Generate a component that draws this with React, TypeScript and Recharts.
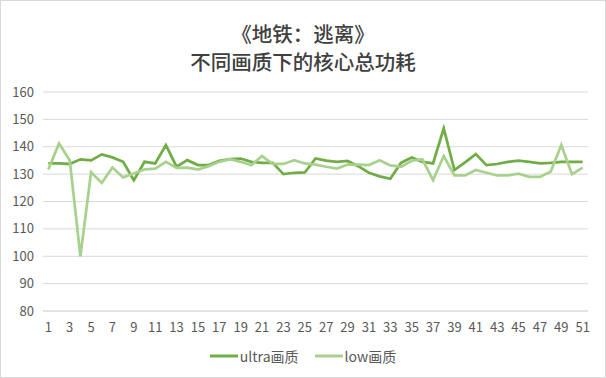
import React from 'react';
import { LineChart, Line, XAxis, YAxis, CartesianGrid, Legend } from 'recharts';

const categories = [1,2,3,4,5,6,7,8,9,10,11,12,13,14,15,16,17,18,19,20,21,22,23,24,25,26,27,28,29,30,31,32,33,34,35,36,37,38,39,40,41,42,43,44,45,46,47,48,49,50,51];

const ultraValues = [
  133.9,133.9,133.7,135.4,135.0,137.2,136.1,134.5,127.8,134.5,
  133.9,140.6,132.7,135.1,133.3,133.3,134.9,135.5,135.7,134.5,
  134.1,134.1,130.0,130.5,130.6,135.7,134.9,134.5,134.8,132.9,
  130.5,129.2,128.3,134.1,136.1,134.5,133.9,146.7,131.5,134.3,
  137.3,133.3,133.7,134.5,134.9,134.5,133.9,134.1,134.5,134.5,134.5,
];

const lowValues = [
  131.7,141.2,135.1,100.0,130.7,126.8,132.4,128.8,130.2,131.7,
  132.0,134.5,132.3,132.4,131.7,132.9,134.5,135.5,134.5,133.3,
  136.6,133.7,133.7,135.1,133.9,133.5,132.7,132.0,133.5,133.5,
  133.3,135.1,133.2,132.7,134.9,135.4,127.8,136.6,129.5,129.5,
  131.5,130.5,129.5,129.5,130.2,129.0,129.0,130.9,140.6,130.0,132.4,
];

const xTickLabels = [1,3,5,7,9,11,13,15,17,19,21,23,25,27,29,31,33,35,37,39,41,43,45,47,49,51];
const yTicks = [80,90,100,110,120,130,140,150,160];

const seriesKeys = ['ultra', 'low'];
const seriesNames: Record<string, string> = { ultra: 'ultra画质', low: 'low画质' };
const seriesColors: Record<string, string> = { ultra: '#70AD47', low: '#A9D18E' };
const titleLines = ['《地铁：逃离》', '不同画质下的核心总功耗'];

const data = categories.map((c, i) => ({ x: c, ultra: ultraValues[i], low: lowValues[i] }));
const boundaryTicks = [categories[0] - 0.5, ...categories.map((c) => c + 0.5)];
const xDomain = [categories[0] - 0.5, categories[categories.length - 1] + 0.5];

const FONT = '"Noto Sans CJK SC", "Noto Sans", sans-serif';

const renderLegend = (props: any) => {
  const payload = props.payload || [];
  const ordered = seriesKeys
    .map((k) => payload.find((p: any) => p.dataKey === k))
    .filter(Boolean);
  return (
    <div style={{ height: 35, display: 'flex', justifyContent: 'center', alignItems: 'center', fontFamily: FONT, fontSize: 14, color: '#595959' }}>
      {ordered.map((p: any) => (
        <div key={p.dataKey} style={{ display: 'flex', alignItems: 'center', margin: '0 8px' }}>
          <svg width={28} height={6} style={{ marginRight: 2 }}>
            <line x1={0} y1={3} x2={28} y2={3} stroke={p.color} strokeWidth={3} />
          </svg>
          <span>{p.value}</span>
        </div>
      ))}
    </div>
  );
};

export default function App() {
  return (
    <div style={{ position: 'absolute', left: 0, top: 0, width: 606, height: 378, background: '#fff', fontFamily: FONT }}>
      <div style={{ position: 'absolute', top: 19, left: 0, width: 606, textAlign: 'center', fontSize: 20.5, fontWeight: 500, color: '#404040', lineHeight: '28px' }}>
        {titleLines[0]}<br />{titleLines[1]}
      </div>
      <LineChart width={606} height={378} data={data} margin={{ top: 92, right: 18, left: 8, bottom: 5 }}>
        <CartesianGrid vertical={false} stroke="#D9D9D9" strokeWidth={1} />
        <XAxis
          xAxisId="grid"
          dataKey="x"
          type="number"
          domain={xDomain}
          ticks={boundaryTicks}
          tick={false}
          tickSize={4}
          height={5}
          axisLine={{ stroke: '#D9D9D9' }}
          tickLine={{ stroke: '#D9D9D9' }}
        />
        <XAxis
          xAxisId="lab"
          dataKey="x"
          type="number"
          domain={xDomain}
          ticks={xTickLabels}
          interval={0}
          tickLine={false}
          axisLine={false}
          tickSize={0}
          tickMargin={7}
          height={22}
          tick={{ fill: '#595959', fontSize: 13, fontFamily: FONT }}
        />
        <YAxis
          domain={[80, 160]}
          ticks={yTicks}
          width={35}
          tickLine={false}
          axisLine={false}
          tickSize={0}
          tickMargin={9}
          tick={{ fill: '#595959', fontSize: 13, fontFamily: FONT }}
        />
        <Legend verticalAlign="bottom" content={renderLegend} wrapperStyle={{ left: 0, width: 606 }} />
        {seriesKeys.map((k) => (
          <Line key={k} xAxisId="lab" type="linear" dataKey={k} name={seriesNames[k]} stroke={seriesColors[k]} strokeWidth={2.75} dot={false} isAnimationActive={false} />
        ))}
      </LineChart>
      <div style={{ position: 'absolute', left: 0, top: 0, width: 606, height: 378, boxSizing: 'border-box', border: '1px solid #D9D9D9', pointerEvents: 'none' }} />
    </div>
  );
}
